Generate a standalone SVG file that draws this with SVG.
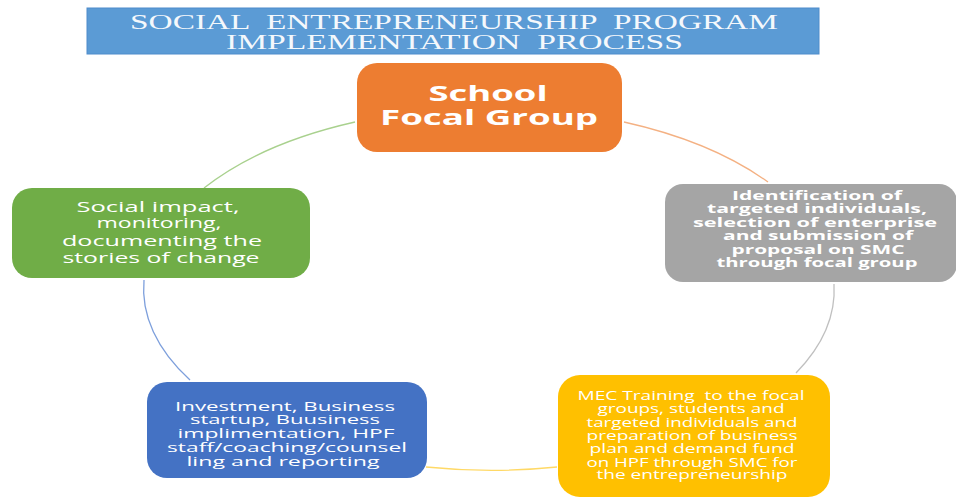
<svg xmlns="http://www.w3.org/2000/svg" width="956" height="497" viewBox="0 0 956 497">
<style>
.t{font-family:"Open Sans","DejaVu Sans",sans-serif;fill:#fff;text-anchor:middle}
.title{font-family:"Liberation Serif","Times New Roman",serif;fill:#f4f8fc;font-size:21px;text-anchor:middle;white-space:pre}
.arc{fill:none;stroke-width:1.3}
</style>
<rect width="956" height="497" fill="#fff"/>
<g id="title">
<rect x="87" y="8" width="732" height="46" fill="#5b9bd5" stroke="#4f8ccb" stroke-width="1"/>
<text class="title" x="454" y="29" textLength="648" lengthAdjust="spacingAndGlyphs" xml:space="preserve">SOCIAL  ENTREPRENEURSHIP  PROGRAM</text>
<text class="title" x="454.5" y="49" textLength="457" lengthAdjust="spacingAndGlyphs" xml:space="preserve">IMPLEMENTATION  PROCESS</text>
</g>
<g id="connectors">
<path class="arc" stroke="#f4b183" d="M624 122 A345 182 0 0 1 768 182"/>
<path class="arc" stroke="#c0c0c0" d="M834 284 A345 182 0 0 1 796 373"/>
<path class="arc" stroke="#ffd966" d="M557 467 A345 182 0 0 1 426 467"/>
<path class="arc" stroke="#7d9fdc" d="M190 380 A345 182 0 0 1 144 280"/>
<path class="arc" stroke="#a9d18e" d="M204 188 A345 182 0 0 1 355 122"/>
</g>
<g id="school-focal-group">
<rect x="357" y="63" width="265" height="89" rx="20" fill="#ed7d31"/>
<text class="t" font-weight="bold" font-size="22" x="488" y="101" textLength="119" lengthAdjust="spacingAndGlyphs">School</text>
<text class="t" font-weight="bold" font-size="22" x="489" y="125" textLength="218" lengthAdjust="spacingAndGlyphs">Focal Group</text>
</g>
<g id="identification" class="t" font-weight="bold" font-size="12.5">
<rect x="665" y="184" width="292" height="98" rx="18" fill="#a5a5a5"/>
<text x="817" y="200" textLength="170" lengthAdjust="spacingAndGlyphs">Identification of</text>
<text x="817" y="213" textLength="220" lengthAdjust="spacingAndGlyphs">targeted individuals,</text>
<text x="815" y="227" textLength="244" lengthAdjust="spacingAndGlyphs">selection of enterprise</text>
<text x="818" y="240" textLength="190" lengthAdjust="spacingAndGlyphs">and submission of</text>
<text x="818" y="254" textLength="173" lengthAdjust="spacingAndGlyphs">proposal on SMC</text>
<text x="817" y="267" textLength="201" lengthAdjust="spacingAndGlyphs">through focal group</text>
</g>
<g id="mec-training" class="t" font-size="12">
<rect x="558" y="375" width="272" height="122" rx="22" fill="#ffc000"/>
<text x="691" y="400" textLength="227" lengthAdjust="spacingAndGlyphs" xml:space="preserve">MEC Training  to the focal</text>
<text x="691" y="413" textLength="187" lengthAdjust="spacingAndGlyphs">groups, students and</text>
<text x="692" y="427" textLength="211" lengthAdjust="spacingAndGlyphs">targeted individuals and</text>
<text x="692" y="440" textLength="211" lengthAdjust="spacingAndGlyphs">preparation of business</text>
<text x="692" y="453" textLength="205" lengthAdjust="spacingAndGlyphs">plan and demand fund</text>
<text x="692" y="467" textLength="211" lengthAdjust="spacingAndGlyphs">on HPF through SMC for</text>
<text x="692" y="479" textLength="191" lengthAdjust="spacingAndGlyphs">the entrepreneurship</text>
</g>
<g id="investment" class="t" font-size="12.5">
<rect x="147" y="382" width="280" height="96" rx="20" fill="#4472c4"/>
<text x="285" y="411" textLength="220" lengthAdjust="spacingAndGlyphs">Investment, Business</text>
<text x="285" y="424" textLength="190" lengthAdjust="spacingAndGlyphs">startup, Buusiness</text>
<text x="286" y="438" textLength="217" lengthAdjust="spacingAndGlyphs">implimentation, HPF</text>
<text x="287" y="452" textLength="240" lengthAdjust="spacingAndGlyphs">staff/coaching/counsel</text>
<text x="283" y="466" textLength="193" lengthAdjust="spacingAndGlyphs">ling and reporting</text>
</g>
<g id="social-impact" class="t" font-size="15">
<rect x="12" y="188" width="298" height="90" rx="20" fill="#70ad47"/>
<text x="158" y="212" textLength="163" lengthAdjust="spacingAndGlyphs">Social impact,</text>
<text x="159" y="228" textLength="125" lengthAdjust="spacingAndGlyphs">monitoring,</text>
<text x="162" y="246" textLength="200" lengthAdjust="spacingAndGlyphs">documenting the</text>
<text x="161" y="263" textLength="197" lengthAdjust="spacingAndGlyphs">stories of change</text>
</g>
</svg>
